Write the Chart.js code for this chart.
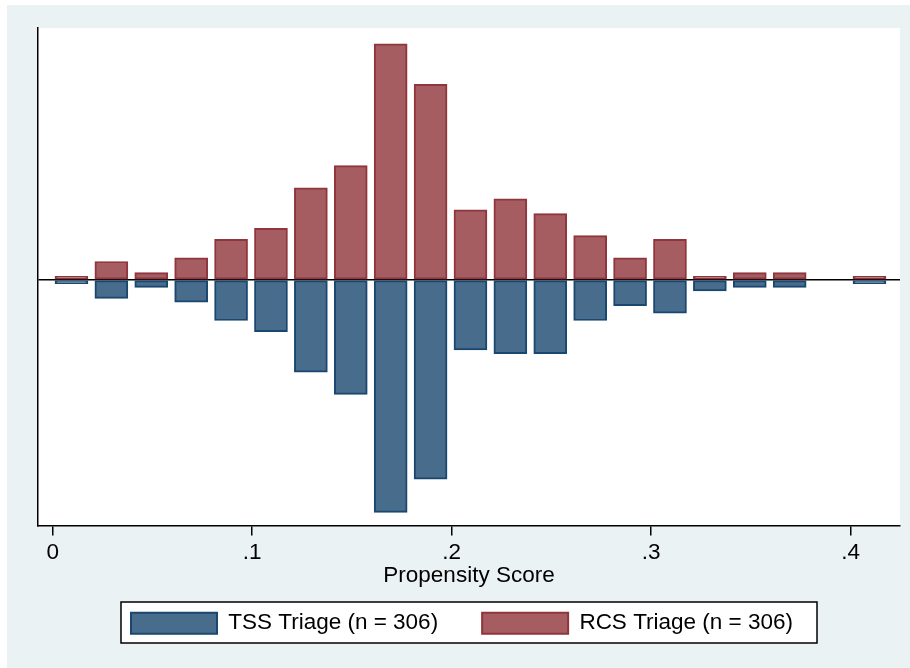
<!DOCTYPE html>
<html>
<head>
<meta charset="utf-8">
<style>
  html, body { margin: 0; padding: 0; background: #ffffff; }
  canvas { display: block; }
</style>
<script src="https://cdn.jsdelivr.net/npm/chart.js@4.4.1/dist/chart.umd.min.js"></script>
</head>
<body>
<canvas id="c" width="910" height="668"></canvas>
<script>
// ---- data ----
const binCenters = [0.0094, 0.0294, 0.0494, 0.0694, 0.0894, 0.1094, 0.1294, 0.1494, 0.1694, 0.1894,
                    0.2094, 0.2294, 0.2494, 0.2694, 0.2894, 0.3094, 0.3294, 0.3494, 0.3694, 0.3894, 0.4094];
const tssCounts = [1, 5, 2, 6, 11, 14, 25, 31, 63, 54, 19, 20, 20, 11, 7, 9, 3, 2, 2, 0, 1];
const rcsCounts = [1, 5, 2, 6, 11, 14, 25, 31, 64, 53, 19, 22, 18, 12, 6, 11, 1, 2, 2, 0, 1];
const xTickValues = [0, 0.1, 0.2, 0.3, 0.4];
const xTickLabels = ['0', '.1', '.2', '.3', '.4'];
const seriesLabels = ['TSS Triage (n = 306)', 'RCS Triage (n = 306)'];
const xTitle = 'Propensity Score';

const FONT = "'Liberation Sans', Arial, Helvetica, sans-serif";

const stataBg = {
  id: 'stataBg',
  beforeDraw(chart) {
    const { ctx, chartArea: a } = chart;
    ctx.save();
    ctx.fillStyle = '#ffffff';
    ctx.fillRect(0, 0, chart.width, chart.height);
    ctx.fillStyle = '#EAF2F3';
    ctx.fillRect(7, 5, chart.width - 7, chart.height - 5);
    ctx.fillStyle = '#ffffff';
    ctx.fillRect(a.left, a.top, a.right - a.left, a.bottom - a.top);
    const lg = chart.legend;
    if (lg && lg.legendHitBoxes && lg.legendHitBoxes.length) {
      const hb = lg.legendHitBoxes;
      const first = hb[0], last = hb[hb.length - 1];
      const l = first.left - 10, r = last.left + last.width + 24;
      const t = first.top - 10, b = first.top + first.height + 8.5;
      ctx.fillStyle = '#ffffff';
      ctx.fillRect(l, t, r - l, b - t);
      ctx.strokeStyle = '#000000';
      ctx.lineWidth = 1.5;
      ctx.strokeRect(l, t, r - l, b - t);
    }
    ctx.restore();
  }
};

const tickFont = { family: FONT, size: 22.5 };

new Chart(document.getElementById('c'), {
  type: 'bar',
  data: {
    datasets: [
      {
        label: seriesLabels[0],
        data: binCenters.map((x, i) => ({ x: x, y: -tssCounts[i] })),
        backgroundColor: '#486C8C',
        borderColor: '#1A476F',
        borderWidth: 2,
        borderSkipped: false,
        grouped: false,
        barThickness: 33
      },
      {
        label: seriesLabels[1],
        data: binCenters.map((x, i) => ({ x: x, y: rcsCounts[i] })),
        backgroundColor: '#A65D62',
        borderColor: '#90353B',
        borderWidth: 2,
        borderSkipped: false,
        grouped: false,
        barThickness: 33
      }
    ]
  },
  options: {
    responsive: false,
    animation: false,
    devicePixelRatio: 1,
    layout: { padding: { left: 24, right: 10, top: 28, bottom: 23.5 } },
    plugins: {
      legend: {
        position: 'bottom',
        align: 'center',
        labels: {
          boxWidth: 86,
          boxHeight: 21,
          padding: 44,
          color: '#000000',
          font: { family: FONT, size: 22.5 }
        }
      },
      tooltip: { enabled: false }
    },
    scales: {
      x: {
        type: 'linear',
        offset: false,
        min: -0.00737,
        max: 0.4247,
        afterBuildTicks: ax => { ax.ticks = xTickValues.map(v => ({ value: v })); },
        ticks: {
          callback: (v, i) => xTickLabels[i],
          color: '#000000',
          font: tickFont,
          padding: 4,
          maxRotation: 0,
          autoSkip: false
        },
        grid: {
          display: true,
          offset: false,
          drawOnChartArea: false,
          drawTicks: true,
          tickLength: 9.5,
          color: '#000000',
          lineWidth: 1.5
        },
        border: { display: true, color: '#000000', width: 1.5 },
        title: {
          display: true,
          text: xTitle,
          color: '#000000',
          font: { family: FONT, size: 22.5 },
          padding: { top: -7.8, bottom: -21.7 }
        }
      },
      y: {
        min: -66.7,
        max: 68.3,
        z: 1,
        afterBuildTicks: ax => { ax.ticks = [{ value: 0 }]; },
        afterFit: s => { s.width = 14; },
        ticks: { display: false },
        grid: { drawTicks: false, color: '#000000', lineWidth: 1.5 },
        border: { display: true, color: '#000000', width: 1.5 }
      }
    }
  },
  plugins: [stataBg]
});
</script>
</body>
</html>
